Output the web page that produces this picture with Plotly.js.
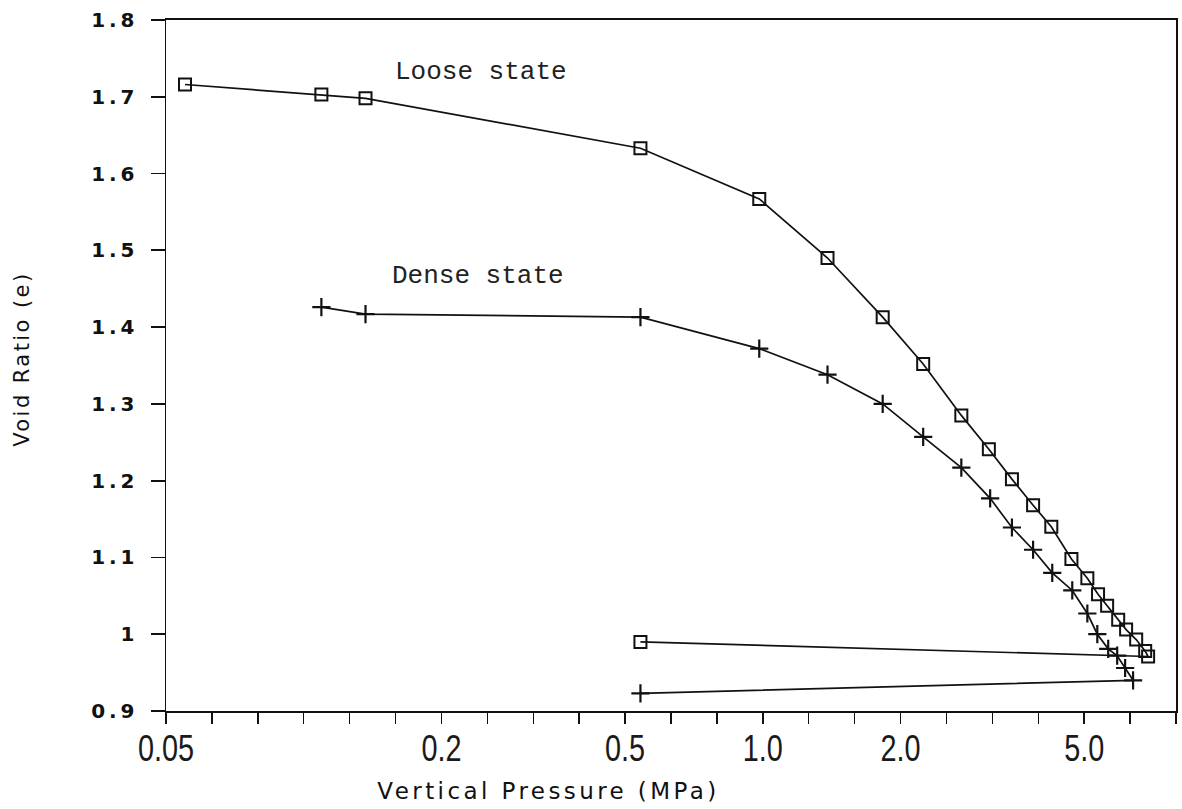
<!DOCTYPE html>
<html>
<head>
<meta charset="utf-8">
<script src="https://cdn.plot.ly/plotly-3.0.1.min.js"></script>
<style>
  html, body { margin: 0; padding: 0; background: #ffffff; }
  #chart { width: 1182px; height: 809px; }
</style>
</head>
<body>
<div id="chart"></div>
<script>
// ---- Data ----
// Loose state: loading path followed by unloading back to ~0.54 MPa
const loosePressure = [0.055, 0.109, 0.136, 0.54, 0.98, 1.38, 1.82, 2.23, 2.70, 3.10, 3.48, 3.87, 4.24, 4.69, 5.08, 5.36, 5.61, 5.93, 6.17, 6.49, 6.79, 6.89, 0.54];
const looseVoid     = [1.716, 1.703, 1.698, 1.633, 1.567, 1.490, 1.413, 1.352, 1.285, 1.241, 1.202, 1.168, 1.140, 1.098, 1.073, 1.052, 1.037, 1.019, 1.006, 0.993, 0.978, 0.971, 0.990];

// Dense state: loading path followed by unloading back to ~0.54 MPa
const densePressure = [0.109, 0.136, 0.54, 0.98, 1.38, 1.82, 2.23, 2.70, 3.12, 3.48, 3.87, 4.26, 4.71, 5.08, 5.34, 5.64, 5.90, 6.14, 6.39, 0.54];
const denseVoid     = [1.426, 1.417, 1.413, 1.372, 1.338, 1.300, 1.257, 1.217, 1.177, 1.139, 1.110, 1.080, 1.057, 1.027, 1.000, 0.981, 0.972, 0.956, 0.940, 0.923];

// Axis labels
const xTickLabels = ['0.05', '0.2', '0.5', '1.0', '2.0', '5.0'];
const xTickLabelValues = [0.05, 0.2, 0.5, 1.0, 2.0, 5.0];
const yTickValues = [0.9, 1.0, 1.1, 1.2, 1.3, 1.4, 1.5, 1.6, 1.7, 1.8];

const seriesNames = ['Loose state', 'Dense state'];
const labelPositions = [[0.156, 1.732], [0.154, 1.466]];
const xTitle = 'Vertical Pressure (MPa)';
const yTitle = 'Void Ratio (e)';

// ---- Axis construction ----
const xMin = 0.05;
const decades = 2.2;
const tickStep = 0.1; // ticks every 0.1 decade
const xTickVals = [];
const xTickText = [];
const nTicks = Math.round(decades / tickStep);
for (let k = 0; k <= nTicks; k++) {
  const v = xMin * Math.pow(10, k * tickStep);
  xTickVals.push(v);
  let txt = '';
  xTickLabelValues.forEach((lv, i) => {
    if (Math.abs(Math.log10(v) - Math.log10(lv)) < 0.01) txt = xTickLabels[i];
  });
  xTickText.push(txt);
}

const ink = '#111';
const lineStyle = { color: ink, width: 1.7 };

const traces = [
  {
    x: loosePressure, y: looseVoid, name: seriesNames[0],
    type: 'scatter', mode: 'lines+markers',
    line: lineStyle,
    marker: { symbol: 'square-open', size: 12, color: ink, line: { width: 2, color: ink } }
  },
  {
    x: densePressure, y: denseVoid, name: seriesNames[1],
    type: 'scatter', mode: 'lines+markers',
    line: lineStyle,
    marker: { symbol: 'cross-thin-open', size: 13, color: ink, line: { width: 2.2, color: ink } }
  }
];

const L = 166, R = 6, T = 20, B = 98;
const plotW = 1182 - L - R;
const plotH = 809 - T - B;

const layout = {
  width: 1182, height: 809,
  margin: { l: L, r: R, t: T, b: B, pad: 0 },
  paper_bgcolor: '#ffffff', plot_bgcolor: '#ffffff',
  showlegend: false,
  xaxis: {
    type: 'log',
    range: [Math.log10(xMin), Math.log10(xMin) + decades],
    tickmode: 'array', tickvals: xTickVals, ticktext: xTickText,
    ticks: 'outside', ticklen: 11, tickwidth: 1.5, tickcolor: ink,
    showline: true, linecolor: ink, linewidth: 2.2, mirror: true,
    showgrid: false, zeroline: false,
    ticklabelstandoff: -8,
    tickfont: { family: 'Liberation Sans Narrow, Liberation Sans, sans-serif', size: 37, color: '#1a1a1a' }
  },
  yaxis: {
    range: [0.9, 1.8],
    tickmode: 'array', tickvals: yTickValues,
    ticktext: yTickValues.map(v => String(+v.toFixed(1))),
    ticks: 'outside', ticklen: 14, tickwidth: 1.8, tickcolor: ink,
    showline: true, linecolor: ink, linewidth: 1.5, mirror: true,
    showgrid: false, zeroline: false,
    ticklabelstandoff: 12,
    tickfont: { family: 'DejaVu Sans, sans-serif', size: 20, color: ink, weight: 'bold' }
  },
  annotations: [
    {
      text: seriesNames[0], xref: 'x', yref: 'y',
      x: Math.log10(labelPositions[0][0]), y: labelPositions[0][1],
      xanchor: 'left', yanchor: 'middle', showarrow: false,
      font: { family: 'Liberation Mono, DejaVu Sans Mono, monospace', size: 26, color: '#222' }
    },
    {
      text: seriesNames[1], xref: 'x', yref: 'y',
      x: Math.log10(labelPositions[1][0]), y: labelPositions[1][1],
      xanchor: 'left', yanchor: 'middle', showarrow: false,
      font: { family: 'Liberation Mono, DejaVu Sans Mono, monospace', size: 26, color: '#222' }
    },
    {
      text: xTitle, xref: 'paper', yref: 'paper',
      x: (547 - L) / plotW, y: -(791 - (T + plotH)) / plotH,
      xanchor: 'center', yanchor: 'middle', showarrow: false,
      font: { family: 'DejaVu Sans, sans-serif', size: 23, color: ink }
    },
    {
      text: yTitle, xref: 'paper', yref: 'paper',
      x: (22 - L) / plotW, y: 1 - (361 - T) / plotH, textangle: -90,
      xanchor: 'center', yanchor: 'middle', showarrow: false,
      font: { family: 'DejaVu Sans, sans-serif', size: 21, color: ink }
    }
  ]
};

Plotly.newPlot('chart', traces, layout, { staticPlot: true, displayModeBar: false }).then(() => {
  const root = document.getElementById('chart');
  // Condensed plotter-style numerals on the x axis
  root.querySelectorAll('.xtick text').forEach(t => {
    const len = t.getComputedTextLength();
    if (len > 0) {
      t.setAttribute('textLength', (len * 0.78).toFixed(1));
      t.setAttribute('lengthAdjust', 'spacingAndGlyphs');
    }
  });
  // Wide letter spacing on the y tick labels
  root.querySelectorAll('.ytick text').forEach(t => {
    const len = t.getComputedTextLength();
    if (len > 0 && t.textContent.length > 1) {
      t.setAttribute('textLength', (len * 1.22).toFixed(1));
      t.setAttribute('lengthAdjust', 'spacing');
    }
  });
  // Letter-spaced axis titles
  const ann = root.querySelectorAll('.annotation-text');
  const targets = { 2: 339, 3: 173 };
  Object.keys(targets).forEach(i => {
    const t = ann[i];
    if (t) {
      t.setAttribute('textLength', targets[i]);
      t.setAttribute('lengthAdjust', 'spacing');
    }
  });
});
</script>
</body>
</html>
